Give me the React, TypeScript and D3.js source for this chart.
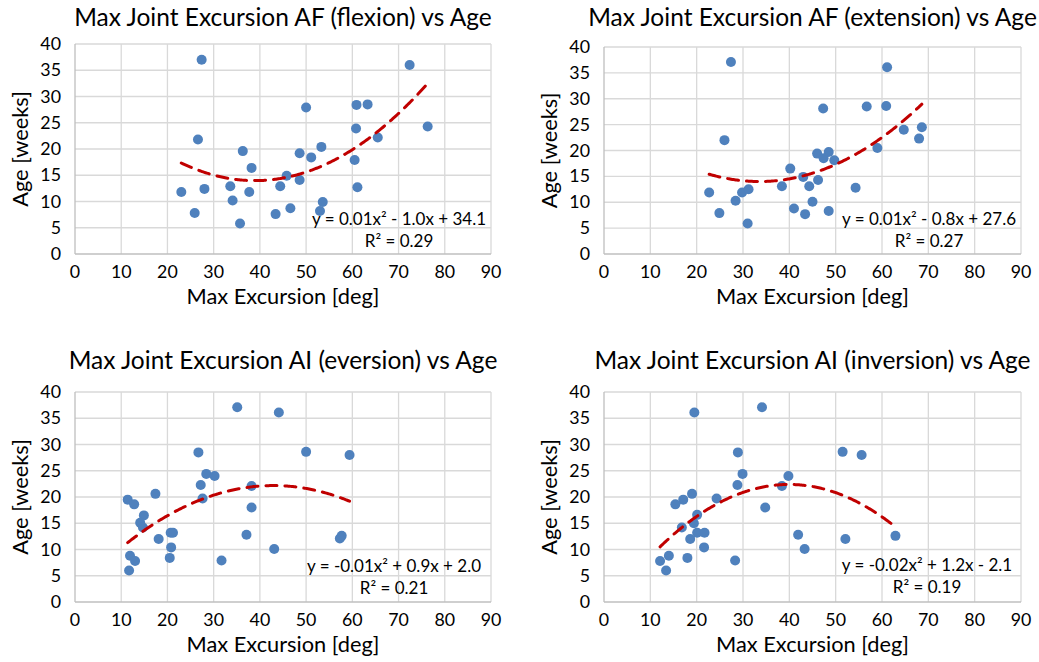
import React, { useRef, useEffect } from 'react';
import * as d3 from 'd3';

const W = 1039;
const H = 662;
const FONT = 'Lato, "Open Sans", sans-serif';

// AF (flexion)
const flexionDeg = [27.4, 72.4, 50.0, 60.9, 63.3, 60.8, 76.3, 26.6, 65.5, 36.3, 53.3, 48.6, 51.1, 60.5, 38.2,
  45.8, 48.6, 23.0, 28.0, 33.6, 37.7, 44.4, 61.1, 34.1, 53.6, 25.9, 43.4, 46.6, 53.0, 35.7];
const flexionAge = [37.0, 36.0, 27.9, 28.4, 28.5, 23.9, 24.3, 21.8, 22.2, 19.6, 20.4, 19.2, 18.4, 17.9, 16.4,
  14.9, 14.1, 11.8, 12.4, 12.9, 11.8, 12.9, 12.7, 10.2, 9.9, 7.8, 7.6, 8.7, 8.2, 5.8];

// AF (extension)
const extensionDeg = [27.4, 61.1, 47.3, 56.7, 60.9, 64.7, 68.6, 68.0, 26.0, 59.0, 46.0, 48.5, 47.4, 49.7, 40.2,
  43.0, 46.2, 38.4, 44.3, 54.3, 22.7, 29.8, 31.2, 28.4, 45.0, 41.0, 48.5, 24.9, 43.4, 31.0];
const extensionAge = [37.1, 36.1, 28.1, 28.5, 28.6, 24.0, 24.5, 22.3, 22.0, 20.5, 19.4, 19.7, 18.5, 18.1, 16.5,
  14.9, 14.3, 13.1, 13.1, 12.8, 11.9, 11.9, 12.5, 10.3, 10.1, 8.8, 8.3, 7.9, 7.7, 5.9];

// AI (eversion)
const eversionDeg = [35.1, 44.1, 26.7, 50.0, 59.4, 28.4, 30.2, 27.2, 38.2, 17.4, 11.4, 12.8, 27.6, 38.2, 14.9,
  14.1, 14.7, 20.7, 21.2, 37.1, 57.7, 57.3, 18.1, 20.8, 43.1, 11.9, 20.5, 13.0, 31.7, 11.7];
const eversionAge = [37.1, 36.1, 28.5, 28.6, 28.0, 24.4, 24.0, 22.3, 22.1, 20.6, 19.5, 18.6, 19.7, 18.0, 16.5,
  15.1, 14.2, 13.2, 13.2, 12.8, 12.6, 12.1, 12.0, 10.4, 10.1, 8.8, 8.4, 7.8, 7.9, 6.0];

// AI (inversion)
const inversionDeg = [34.1, 19.5, 28.9, 51.5, 55.6, 29.9, 39.8, 28.8, 38.4, 19.0, 17.1, 15.4, 24.3, 34.8, 20.1,
  19.4, 16.8, 20.1, 21.7, 41.9, 62.9, 52.1, 18.6, 21.6, 43.3, 14.0, 18.0, 12.1, 28.3, 13.4];
const inversionAge = [37.1, 36.1, 28.5, 28.6, 28.0, 24.4, 24.0, 22.3, 22.1, 20.6, 19.5, 18.6, 19.7, 18.0, 16.6,
  15.0, 14.2, 13.2, 13.2, 12.8, 12.6, 12.0, 12.0, 10.4, 10.1, 8.8, 8.4, 7.8, 7.9, 6.0];

const xTicks = [0, 10, 20, 30, 40, 50, 60, 70, 80, 90];
const yTicks = [0, 5, 10, 15, 20, 25, 30, 35, 40];

const titles = [
  'Max Joint Excursion AF (flexion) vs Age',
  'Max Joint Excursion AF (extension) vs Age',
  'Max Joint Excursion AI (eversion) vs Age',
  'Max Joint Excursion AI (inversion) vs Age',
];
const equations = [
  'y = 0.01x² - 1.0x + 34.1',
  'y = 0.01x² - 0.8x + 27.6',
  'y = -0.01x² + 0.9x + 2.0',
  'y = -0.02x² + 1.2x - 2.1',
];
const rSquared = ['R² = 0.29', 'R² = 0.27', 'R² = 0.21', 'R² = 0.19'];

const xLabel = 'Max Excursion [deg]';
const yLabel = 'Age [weeks]';

const series = [
  { x: flexionDeg, y: flexionAge },
  { x: extensionDeg, y: extensionAge },
  { x: eversionDeg, y: eversionAge },
  { x: inversionDeg, y: inversionAge },
];

// where each panel sits on the page
const layout = [
  { left: 75, right: 491, top: 44, bottom: 254, titleY: 26, eqX: 399, eqY: 225, yTitleX: 28 },
  { left: 604, right: 1021, top: 47, bottom: 254, titleY: 26, eqX: 929, eqY: 225, yTitleX: 557 },
  { left: 75, right: 491, top: 392, bottom: 602, titleY: 369, eqX: 394, eqY: 572, yTitleX: 28 },
  { left: 604, right: 1021, top: 392, bottom: 602, titleY: 369, eqX: 927, eqY: 571, yTitleX: 557 },
];

// least squares fit of y = a x^2 + b x + c (same as an Excel order-2 trendline)
function fitQuadratic(xs: number[], ys: number[]) {
  const s = [0, 0, 0, 0, 0];
  const t = [0, 0, 0];
  xs.forEach((x, i) => {
    for (let k = 0; k < 5; k++) s[k] += Math.pow(x, k);
    for (let k = 0; k < 3; k++) t[k] += ys[i] * Math.pow(x, k);
  });
  const m = [
    [s[0], s[1], s[2], t[0]],
    [s[1], s[2], s[3], t[1]],
    [s[2], s[3], s[4], t[2]],
  ];
  for (let i = 0; i < 3; i++) {
    for (let j = i + 1; j < 3; j++) {
      const f = m[j][i] / m[i][i];
      for (let k = i; k < 4; k++) m[j][k] -= f * m[i][k];
    }
  }
  const c = [0, 0, 0];
  for (let i = 2; i >= 0; i--) {
    let v = m[i][3];
    for (let k = i + 1; k < 3; k++) v -= m[i][k] * c[k];
    c[i] = v / m[i][i];
  }
  return (x: number) => c[0] + c[1] * x + c[2] * x * x;
}

const App = () => {
  const ref = useRef<SVGSVGElement>(null);

  useEffect(() => {
    const svg = d3.select(ref.current);
    svg.selectAll('*').remove();

    svg.append('rect').attr('width', W).attr('height', H).attr('fill', '#fff');

    series.forEach((s, p) => {
      const L = layout[p];
      const x = d3.scaleLinear().domain([0, 90]).range([L.left, L.right]);
      const y = d3.scaleLinear().domain([0, 40]).range([L.bottom, L.top]);
      const g = svg.append('g').attr('font-family', FONT).attr('fill', '#000');

      // gridlines
      g.selectAll('.vgrid')
        .data(xTicks.slice(1))
        .enter()
        .append('line')
        .attr('x1', d => x(d)).attr('x2', d => x(d))
        .attr('y1', L.top).attr('y2', L.bottom)
        .attr('stroke', '#d9d9d9').attr('stroke-width', 1.3);
      g.selectAll('.hgrid')
        .data(yTicks.slice(1))
        .enter()
        .append('line')
        .attr('x1', L.left).attr('x2', L.right)
        .attr('y1', d => y(d)).attr('y2', d => y(d))
        .attr('stroke', '#d9d9d9').attr('stroke-width', 1.3);

      // axis lines
      g.append('line')
        .attr('x1', L.left).attr('x2', L.left).attr('y1', L.top).attr('y2', L.bottom)
        .attr('stroke', '#bfbfbf').attr('stroke-width', 1.3);
      g.append('line')
        .attr('x1', L.left).attr('x2', L.right).attr('y1', L.bottom).attr('y2', L.bottom)
        .attr('stroke', '#bfbfbf').attr('stroke-width', 1.3);

      // tick labels
      g.selectAll('.xt')
        .data(xTicks)
        .enter()
        .append('text')
        .attr('x', d => x(d)).attr('y', L.bottom + 23.5)
        .attr('text-anchor', 'middle').attr('font-size', 17.8)
        .text(d => d);
      g.selectAll('.yt')
        .data(yTicks)
        .enter()
        .append('text')
        .attr('x', L.left - 14).attr('y', d => y(d) + 6)
        .attr('text-anchor', 'end').attr('font-size', 17.8)
        .text(d => d);

      // titles
      g.append('text')
        .attr('x', (L.left + L.right) / 2).attr('y', L.titleY)
        .attr('text-anchor', 'middle').attr('font-size', 24.5)
        .text(titles[p]);
      g.append('text')
        .attr('x', (L.left + L.right) / 2).attr('y', L.bottom + 49.5)
        .attr('text-anchor', 'middle').attr('font-size', 21.8)
        .text(xLabel);
      g.append('text')
        .attr('transform', `translate(${L.yTitleX},${(L.top + L.bottom) / 2}) rotate(-90)`)
        .attr('text-anchor', 'middle').attr('font-size', 21.8)
        .text(yLabel);

      // points
      g.selectAll('.pt')
        .data(s.x)
        .enter()
        .append('circle')
        .attr('cx', d => x(d))
        .attr('cy', (d, i) => y(s.y[i]))
        .attr('r', 5)
        .attr('fill', '#4f81bd');

      // polynomial trendline over the data range
      const f = fitQuadratic(s.x, s.y);
      const [x0, x1] = d3.extent(s.x) as [number, number];
      const pts = d3.range(x0, x1, 0.25).concat([x1]);
      const line = d3.line<number>().x(d => x(d)).y(d => y(f(d))).curve(d3.curveLinear);
      g.append('path')
        .datum(pts)
        .attr('d', line)
        .attr('fill', 'none')
        .attr('stroke', '#c00000')
        .attr('stroke-width', 3)
        .attr('stroke-dasharray', '11 8')
        .attr('stroke-linecap', 'round');

      // equation label
      g.append('text')
        .attr('x', L.eqX).attr('y', L.eqY)
        .attr('text-anchor', 'middle').attr('font-size', 17)
        .text(equations[p]);
      g.append('text')
        .attr('x', L.eqX).attr('y', L.eqY + 22)
        .attr('text-anchor', 'middle').attr('font-size', 17)
        .text(rSquared[p]);
    });
  }, []);

  return (
    <svg
      ref={ref}
      width={W}
      height={H}
      style={{ position: 'absolute', left: 0, top: 0, display: 'block' }}
    />
  );
};

export default App;
